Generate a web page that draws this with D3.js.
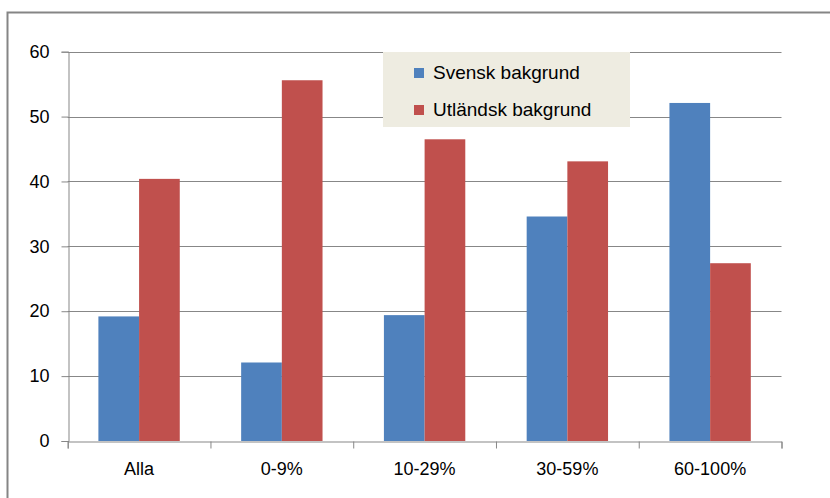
<!DOCTYPE html>
<html>
<head>
<meta charset="utf-8">
<script src="https://cdn.jsdelivr.net/npm/d3@7"></script>
<style>
  body { margin: 0; background: #fff; }
  svg { display: block; }
</style>
</head>
<body>
<div id="chart"></div>
<script>
// data
let kategorier = ["Alla", "0-9%", "10-29%", "30-59%", "60-100%"];
let svensk     = [19.2, 12.1, 19.4, 34.6, 52.1];
let utlandsk   = [40.4, 55.6, 46.5, 43.1, 27.4];
let serier     = ["Svensk bakgrund", "Utländsk bakgrund"];
let yTicks     = [0, 10, 20, 30, 40, 50, 60];

let larg = 830;
let alt = 498;
let farger = ["#4F81BD", "#C0504D"];
let gra = "#878787";
let font = "'Liberation Sans', Arial, sans-serif";

let vanster = 67.7, hoger = 781.5, topp = 51.7, botten = 441;

let canvas = d3.select("#chart")
    .append("svg")
    .attr("width", larg)
    .attr("height", alt);

// outer chart border (runs off the right / bottom edge)
canvas.append("rect")
    .attr("x", 7.5)
    .attr("y", 12.5)
    .attr("width", 900)
    .attr("height", 600)
    .attr("fill", "white")
    .attr("stroke", "#858585")
    .attr("stroke-width", 2);

let x = d3.scaleBand()
    .domain(kategorier)
    .range([vanster, hoger])
    .paddingInner(0.43)
    .paddingOuter(0.215);

let xSerie = d3.scaleBand()
    .domain(serier)
    .range([0, x.bandwidth()]);

let y = d3.scaleLinear()
    .domain([0, 60])
    .range([botten, topp]);

// gridlines
canvas.append("g")
    .selectAll("line")
    .data(yTicks.filter(d => d > 0))
    .enter()
    .append("line")
    .attr("x1", vanster)
    .attr("x2", hoger)
    .attr("y1", d => Math.round(y(d)) + 0.5)
    .attr("y2", d => Math.round(y(d)) + 0.5)
    .attr("stroke", gra)
    .attr("stroke-width", 1);

// bars
let rader = kategorier.map((k, i) => ({kat: k, varden: [svensk[i], utlandsk[i]]}));

let grupper = canvas.selectAll(".grupp")
    .data(rader)
    .enter()
    .append("g")
    .attr("class", "grupp")
    .attr("transform", d => "translate(" + x(d.kat) + ",0)");

grupper.selectAll("rect")
    .data(d => d.varden.map((v, j) => ({serie: serier[j], v: v, j: j})))
    .enter()
    .append("rect")
    .attr("x", d => xSerie(d.serie))
    .attr("width", xSerie.bandwidth())
    .attr("y", d => y(d.v))
    .attr("height", d => y(0) - y(d.v))
    .attr("fill", d => farger[d.j]);

// y axis
let yAxel = d3.axisLeft(y)
    .tickValues(yTicks)
    .tickSize(7)
    .tickPadding(12);

let yg = canvas.append("g")
    .attr("transform", "translate(" + (Math.round(vanster) + 0.5) + ",0)")
    .call(yAxel);
yg.select(".domain").attr("stroke", gra);
yg.selectAll(".tick line").attr("stroke", gra);
yg.selectAll("text")
    .style("font", "18px " + font)
    .attr("fill", "#000");

// x axis: ticks at category boundaries
let xKant = d3.scaleLinear()
    .domain([0, kategorier.length])
    .range([vanster, hoger]);

let xg = canvas.append("g")
    .attr("transform", "translate(0," + (Math.round(botten) + 0.5) + ")")
    .call(d3.axisBottom(xKant)
        .tickValues(d3.range(kategorier.length + 1))
        .tickFormat("")
        .tickSize(7));
xg.select(".domain").attr("stroke", gra);
xg.selectAll(".tick line").attr("stroke", gra);

// category labels
let xLabels = canvas.append("g")
    .attr("transform", "translate(0," + botten + ")")
    .call(d3.axisBottom(x).tickSize(0).tickPadding(21));
xLabels.select(".domain").remove();
xLabels.selectAll("text")
    .style("font", "18px " + font)
    .attr("fill", "#000");

// legend
let legend = canvas.append("g")
    .attr("transform", "translate(383,52)");

legend.append("rect")
    .attr("width", 247)
    .attr("height", 75)
    .attr("fill", "#EEECE1");

let poster = legend.selectAll(".post")
    .data(serier)
    .enter()
    .append("g")
    .attr("class", "post")
    .attr("transform", (d, i) => "translate(31," + (20.5 + i * 37) + ")");

poster.append("rect")
    .attr("x", 0)
    .attr("y", -4.5)
    .attr("width", 10)
    .attr("height", 10)
    .attr("fill", (d, i) => farger[i]);

poster.append("text")
    .attr("x", 19)
    .attr("y", 0)
    .attr("dy", "0.35em")
    .style("font", "19px " + font)
    .attr("fill", "#000")
    .text(d => d);
</script>
</body>
</html>
